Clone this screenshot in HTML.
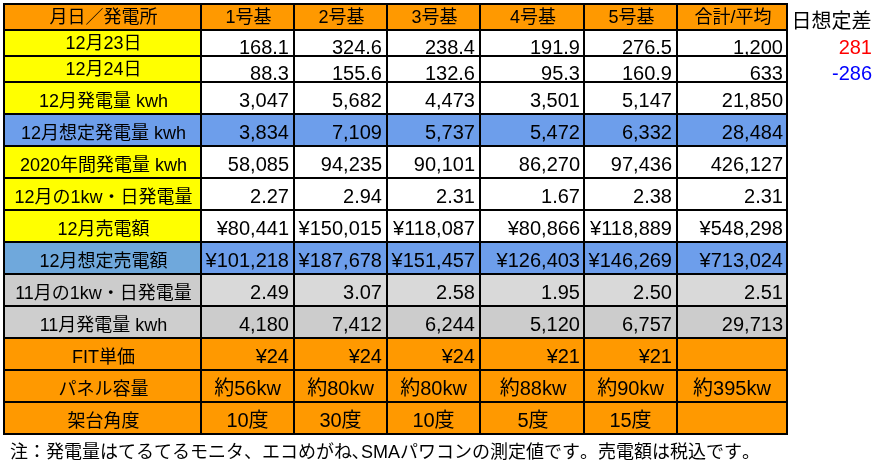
<!DOCTYPE html>
<html lang="ja">
<head>
<meta charset="utf-8">
<title>発電量集計</title>
<style>
html,body{margin:0;padding:0;background:#fff}
body{position:relative;width:886px;height:470px;overflow:hidden;color:#000;font-family:"Liberation Sans","Noto Sans CJK JP",sans-serif}
#sheet{position:absolute;left:3px;top:3px;width:785px;height:432px;background:#000}
.r{position:absolute;left:0;width:100%}
.c{position:absolute;top:0;height:100%;box-sizing:border-box;overflow:hidden;white-space:nowrap;line-height:24px}
.k0{left:2px;width:195px}
.k1{left:199px;width:91px}
.k2{left:292px;width:91px}
.k3{left:385px;width:91px}
.k4{left:478px;width:102px}
.k5{left:582px;width:91px}
.k6{left:675px;width:108px}
.l,.h{font-size:18px;text-align:center}
.l,.h{padding-left:2px}
.n{font-size:20px;text-align:right;padding-right:4px}
.k4.n,.k6.n{padding-right:3px}
.m{font-size:20px;text-align:center}
.k4.m{padding-left:2px}
.tall .l,.tall .h{padding-top:6px}
.tall .n,.tall .m{padding-top:5px}
.short .n{padding-top:4px}
.or{background:#ff9900}.ye{background:#ffff00}.wh{background:#fff}.bl{background:#6d9eeb}.b2{background:#6fa8dc}
.g1{background:#d9d9d9}.g2{background:#cccccc}.g3{background:#cecece}
.x{position:absolute;white-space:nowrap;line-height:24px;font-size:20px}
#note{position:absolute;font-kerning:none;left:10px;top:440px;white-space:nowrap;line-height:24px;font-size:18px}
#note i{font-style:normal}
</style>
</head>
<body>
<div id="sheet">
<div class="r short" style="top:2px;height:24px">
<div class="c k0 l or">月日／発電所</div>
<div class="c k1 h or">1号基</div>
<div class="c k2 h or">2号基</div>
<div class="c k3 h or">3号基</div>
<div class="c k4 h or">4号基</div>
<div class="c k5 h or">5号基</div>
<div class="c k6 h or">合計/平均</div>
</div>
<div class="r short" style="top:28px;height:24px">
<div class="c k0 l ye">12月23日</div>
<div class="c k1 n wh">168.1</div>
<div class="c k2 n wh">324.6</div>
<div class="c k3 n wh">238.4</div>
<div class="c k4 n wh">191.9</div>
<div class="c k5 n wh">276.5</div>
<div class="c k6 n wh">1,200</div>
</div>
<div class="r short" style="top:54px;height:24px">
<div class="c k0 l ye">12月24日</div>
<div class="c k1 n wh">88.3</div>
<div class="c k2 n wh">155.6</div>
<div class="c k3 n wh">132.6</div>
<div class="c k4 n wh">95.3</div>
<div class="c k5 n wh">160.9</div>
<div class="c k6 n wh">633</div>
</div>
<div class="r tall" style="top:80px;height:30px">
<div class="c k0 l ye">12月発電量 kwh</div>
<div class="c k1 n wh">3,047</div>
<div class="c k2 n wh">5,682</div>
<div class="c k3 n wh">4,473</div>
<div class="c k4 n wh">3,501</div>
<div class="c k5 n wh">5,147</div>
<div class="c k6 n wh">21,850</div>
</div>
<div class="r tall" style="top:112px;height:30px">
<div class="c k0 l bl">12月想定発電量 kwh</div>
<div class="c k1 n bl">3,834</div>
<div class="c k2 n bl">7,109</div>
<div class="c k3 n bl">5,737</div>
<div class="c k4 n bl">5,472</div>
<div class="c k5 n bl">6,332</div>
<div class="c k6 n bl">28,484</div>
</div>
<div class="r tall" style="top:144px;height:30px">
<div class="c k0 l ye">2020年間発電量 kwh</div>
<div class="c k1 n wh">58,085</div>
<div class="c k2 n wh">94,235</div>
<div class="c k3 n wh">90,101</div>
<div class="c k4 n wh">86,270</div>
<div class="c k5 n wh">97,436</div>
<div class="c k6 n wh">426,127</div>
</div>
<div class="r tall" style="top:176px;height:30px">
<div class="c k0 l ye">12月の1kw・日発電量</div>
<div class="c k1 n wh">2.27</div>
<div class="c k2 n wh">2.94</div>
<div class="c k3 n wh">2.31</div>
<div class="c k4 n wh">1.67</div>
<div class="c k5 n wh">2.38</div>
<div class="c k6 n wh">2.31</div>
</div>
<div class="r tall" style="top:208px;height:30px">
<div class="c k0 l ye">12月売電額</div>
<div class="c k1 n wh">¥80,441</div>
<div class="c k2 n wh">¥150,015</div>
<div class="c k3 n wh">¥118,087</div>
<div class="c k4 n wh">¥80,866</div>
<div class="c k5 n wh">¥118,889</div>
<div class="c k6 n wh">¥548,298</div>
</div>
<div class="r tall" style="top:240px;height:30px">
<div class="c k0 l b2">12月想定売電額</div>
<div class="c k1 n bl">¥101,218</div>
<div class="c k2 n bl">¥187,678</div>
<div class="c k3 n bl">¥151,457</div>
<div class="c k4 n bl">¥126,403</div>
<div class="c k5 n bl">¥146,269</div>
<div class="c k6 n bl">¥713,024</div>
</div>
<div class="r tall" style="top:272px;height:30px">
<div class="c k0 l g2">11月の1kw・日発電量</div>
<div class="c k1 n g1">2.49</div>
<div class="c k2 n g1">3.07</div>
<div class="c k3 n g1">2.58</div>
<div class="c k4 n g1">1.95</div>
<div class="c k5 n g1">2.50</div>
<div class="c k6 n g1">2.51</div>
</div>
<div class="r tall" style="top:304px;height:30px">
<div class="c k0 l g3">11月発電量 kwh</div>
<div class="c k1 n g2">4,180</div>
<div class="c k2 n g2">7,412</div>
<div class="c k3 n g2">6,244</div>
<div class="c k4 n g2">5,120</div>
<div class="c k5 n g2">6,757</div>
<div class="c k6 n g2">29,713</div>
</div>
<div class="r tall" style="top:336px;height:30px">
<div class="c k0 l or">FIT単価</div>
<div class="c k1 n or">¥24</div>
<div class="c k2 n or">¥24</div>
<div class="c k3 n or">¥24</div>
<div class="c k4 n or">¥21</div>
<div class="c k5 n or">¥21</div>
<div class="c k6 n or"></div>
</div>
<div class="r tall" style="top:368px;height:30px">
<div class="c k0 l or">パネル容量</div>
<div class="c k1 m or">約56kw</div>
<div class="c k2 m or">約80kw</div>
<div class="c k3 m or">約80kw</div>
<div class="c k4 m or">約88kw</div>
<div class="c k5 m or">約90kw</div>
<div class="c k6 m or">約395kw</div>
</div>
<div class="r tall" style="top:400px;height:30px">
<div class="c k0 l or">架台角度</div>
<div class="c k1 m or">10度</div>
<div class="c k2 m or">30度</div>
<div class="c k3 m or">10度</div>
<div class="c k4 m or">5度</div>
<div class="c k5 m or">15度</div>
<div class="c k6 m or"></div>
</div>
</div>
<div class="x" style="left:788px;top:9px;width:87px;text-align:center">日想定差</div>
<div class="x" style="left:789px;top:35px;width:83px;text-align:right;color:#ff0000">281</div>
<div class="x" style="left:789px;top:61px;width:83px;text-align:right;color:#0000ff">-286</div>
<div id="note">注：発電量はてるてるモニタ、エコめがね､SMAパワコンの測定値です。売電額は税込です。</div>
</body>
</html>
